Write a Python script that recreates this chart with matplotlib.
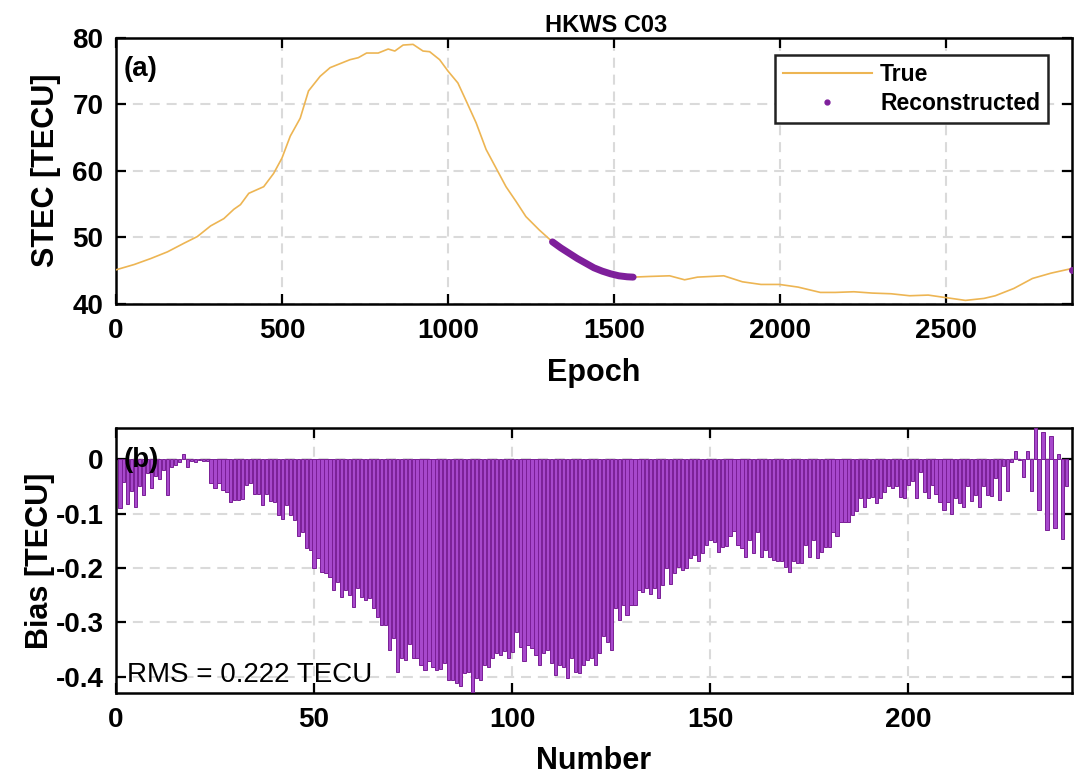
import matplotlib
matplotlib.use("Agg")
import matplotlib.pyplot as plt
from matplotlib.lines import Line2D
import numpy as np

plt.rcParams['font.family'] = ['Liberation Sans', 'DejaVu Sans']
plt.rcParams['axes.unicode_minus'] = False

# ---------------- data ----------------
true_epoch = [0, 55, 105, 155, 205, 245, 285, 325, 355, 375, 400, 445, 475, 500, 525,
              555, 580, 615, 645, 675, 705, 730, 755, 790, 820, 840, 865, 895, 925,
              945, 975, 1000, 1030, 1055, 1085, 1115, 1145, 1175, 1205, 1235, 1275,
              1315, 1382, 1438, 1494, 1558, 1606, 1668, 1713, 1752, 1831, 1887, 1943,
              1999, 2055, 2122, 2167, 2223, 2279, 2335, 2391, 2447, 2503, 2559, 2615,
              2649, 2705, 2761, 2817, 2880]
true_stec = [45.1, 45.9, 46.8, 47.8, 49.1, 50.1, 51.7, 52.8, 54.2, 54.9, 56.6, 57.6, 59.6,
             61.9, 65.2, 67.9, 72.0, 74.2, 75.5, 76.1, 76.7, 77.0, 77.7, 77.7, 78.3, 78.0,
             78.9, 79.0, 78.0, 77.9, 76.7, 75.0, 73.2, 70.5, 67.2, 63.2, 60.4, 57.6, 55.4,
             53.1, 51.1, 49.3, 47.0, 45.3, 44.3, 44.0, 44.1, 44.2, 43.6, 44.0, 44.2, 43.3,
             42.9, 42.9, 42.5, 41.7, 41.7, 41.8, 41.6, 41.5, 41.2, 41.3, 40.9, 40.5, 40.8,
             41.2, 42.3, 43.8, 44.6, 45.3]

rec_epoch = [1315, 1340, 1365, 1390, 1415, 1440, 1465, 1490, 1515, 1540, 1558]
rec_stec = [49.3, 48.4, 47.6, 46.8, 46.1, 45.4, 44.9, 44.5, 44.2, 44.05, 44.0]
rec_end_epoch = [2880]
rec_end_stec = [45.0]

bias = [-0.090, -0.042, -0.082, -0.058, -0.087, -0.050, -0.066, -0.025, -0.053, -0.030,
        -0.037, -0.020, -0.065, -0.015, -0.010, -0.005, 0.010, -0.015, -0.004, -0.005,
        -0.001, -0.003, -0.004, -0.044, -0.053, -0.044, -0.056, -0.060, -0.079, -0.075,
        -0.075, -0.073, -0.047, -0.044, -0.063, -0.063, -0.085, -0.063, -0.077, -0.078,
        -0.102, -0.109, -0.084, -0.102, -0.112, -0.142, -0.133, -0.164, -0.167, -0.200,
        -0.182, -0.207, -0.210, -0.216, -0.240, -0.225, -0.253, -0.240, -0.250, -0.271,
        -0.237, -0.253, -0.259, -0.256, -0.274, -0.291, -0.305, -0.305, -0.351, -0.329,
        -0.391, -0.366, -0.369, -0.339, -0.366, -0.366, -0.379, -0.388, -0.372, -0.382,
        -0.388, -0.385, -0.375, -0.406, -0.406, -0.412, -0.418, -0.394, -0.391, -0.428,
        -0.403, -0.406, -0.379, -0.382, -0.366, -0.357, -0.360, -0.353, -0.366, -0.354,
        -0.317, -0.345, -0.372, -0.342, -0.348, -0.360, -0.379, -0.357, -0.351, -0.375,
        -0.397, -0.379, -0.382, -0.403, -0.366, -0.391, -0.394, -0.379, -0.369, -0.366,
        -0.379, -0.357, -0.326, -0.336, -0.351, -0.274, -0.296, -0.268, -0.287, -0.268,
        -0.268, -0.240, -0.244, -0.237, -0.247, -0.237, -0.256, -0.231, -0.200, -0.230,
        -0.210, -0.198, -0.204, -0.200, -0.182, -0.176, -0.188, -0.173, -0.158, -0.148,
        -0.152, -0.170, -0.162, -0.160, -0.142, -0.132, -0.158, -0.164, -0.179, -0.148,
        -0.173, -0.133, -0.179, -0.167, -0.179, -0.185, -0.187, -0.187, -0.198, -0.207,
        -0.188, -0.191, -0.191, -0.158, -0.179, -0.148, -0.181, -0.170, -0.161, -0.161,
        -0.133, -0.142, -0.115, -0.115, -0.116, -0.102, -0.095, -0.072, -0.087, -0.072,
        -0.069, -0.081, -0.072, -0.060, -0.050, -0.053, -0.050, -0.069, -0.072, -0.047,
        -0.040, -0.072, -0.023, -0.060, -0.072, -0.047, -0.063, -0.078, -0.093, -0.078,
        -0.101, -0.071, -0.081, -0.087, -0.050, -0.077, -0.066, -0.087, -0.050, -0.066,
        -0.067, -0.034, -0.075, -0.013, -0.058, -0.005, 0.015, -0.002, -0.032, 0.016,
        -0.058, 0.057, -0.094, 0.050, -0.131, 0.043, -0.126, 0.009, -0.147, -0.050]
bar_number = list(range(1, len(bias) + 1))

title = "HKWS C03"
rms_text = "RMS = 0.222 TECU"
top_xticks = [0, 500, 1000, 1500, 2000, 2500]
top_yticks = [40, 50, 60, 70, 80]
bot_xticks = [0, 50, 100, 150, 200]
bot_yticks = [-0.4, -0.3, -0.2, -0.1, 0]
bot_yticklabels = ["-0.4", "-0.3", "-0.2", "-0.1", "0"]

# ---------------- style ----------------
TRUE_C = '#EDB553'
PURPLE = '#7E1F9B'
BAR_FACE = '#A748CC'
BAR_EDGE = '#7A1E96'
GRID_C = '#DADADA'
TICK_FS = 20
LABEL_FS = 22

fig = plt.figure(figsize=(10.83, 7.78), dpi=100)
ax1 = fig.add_axes([0.1071, 0.6096, 0.8827, 0.3419])
ax2 = fig.add_axes([0.1071, 0.1093, 0.8827, 0.3402])


def style(ax):
    ax.grid(True, color=GRID_C, linestyle=(0, (4.8, 3.3)), linewidth=1.5)
    ax.set_axisbelow(True)
    for s in ax.spines.values():
        s.set_linewidth(1.8)
        s.set_color('black')
    ax.tick_params(direction='in', length=7, width=1.6, top=True, right=True,
                   labelsize=TICK_FS)
    ax.tick_params(axis='x', pad=10)
    ax.tick_params(axis='y', pad=9)
    for lab in ax.get_xticklabels() + ax.get_yticklabels():
        lab.set_fontweight('bold')


# ---- top panel ----
ax1.plot(true_epoch, true_stec, color=TRUE_C, lw=1.2, zorder=3)
ax1.plot(rec_epoch, rec_stec, color=PURPLE, lw=5, solid_capstyle='round', zorder=4)
ax1.plot(rec_end_epoch, rec_end_stec, ls='none', marker='o', ms=4, color=PURPLE, zorder=4)
ax1.set_xlim(0, 2880)
ax1.set_ylim(40, 80)
ax1.set_xticks(top_xticks)
ax1.set_yticks(top_yticks)
style(ax1)
ax1.set_xlabel("Epoch", fontsize=LABEL_FS, fontweight='bold')
ax1.set_ylabel("STEC [TECU]", fontsize=LABEL_FS, fontweight='bold')
ax1.xaxis.set_label_coords(0.5, -0.205)
ax1.yaxis.set_label_coords(-0.057, 0.5)
ax1.set_title(title, fontsize=17, fontweight='bold', pad=4, x=0.513)
ax1.text(0.008, 0.93, "(a)", transform=ax1.transAxes, fontsize=20,
         fontweight='bold', ha='left', va='top')

handles = [Line2D([], [], color=TRUE_C, lw=1.5),
           Line2D([], [], ls='none', marker='o', ms=3.5, color=PURPLE)]
leg = ax1.legend(handles, ["True", "Reconstructed"], loc='upper right',
                 bbox_to_anchor=(0.975, 0.935), borderaxespad=0, fancybox=False,
                 framealpha=1, edgecolor='#222222', handlelength=3.9,
                 handletextpad=0.35, borderpad=0.35, labelspacing=0.25,
                 prop={'size': 16.5, 'weight': 'bold'})
leg.get_frame().set_linewidth(1.8)

# ---- bottom panel ----
ax2.bar(bar_number, bias, width=0.8, color=BAR_FACE, edgecolor=BAR_EDGE,
        linewidth=0.7, zorder=3)
ax2.set_xlim(0, 241.3)
ax2.set_ylim(min(bias) - 0.002, max(bias))
ax2.set_xticks(bot_xticks)
ax2.set_yticks(bot_yticks)
ax2.set_yticklabels(bot_yticklabels)
style(ax2)
ax2.set_xlabel("Number", fontsize=LABEL_FS, fontweight='bold')
ax2.set_ylabel("Bias [TECU]", fontsize=LABEL_FS, fontweight='bold')
ax2.xaxis.set_label_coords(0.5, -0.2)
ax2.yaxis.set_label_coords(-0.064, 0.5)
ax2.text(0.008, 0.93, "(b)", transform=ax2.transAxes, fontsize=20,
         fontweight='bold', ha='left', va='top', zorder=5)
ax2.text(0.0115, 0.068, rms_text, transform=ax2.transAxes, fontsize=20,
         ha='left', va='center', zorder=5)

fig.savefig("out.png", dpi=100)
